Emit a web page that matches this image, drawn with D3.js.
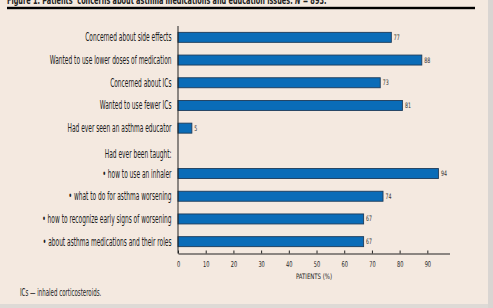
<!DOCTYPE html>
<html><head><meta charset="utf-8">
<script src="https://cdn.jsdelivr.net/npm/d3@7"></script>
<style>
html,body{margin:0;padding:0;background:#f4e9e0;}
svg{display:block;}
</style></head>
<body>
<script>
const categories = [
  "Concerned about side effects",
  "Wanted to use lower doses of medication",
  "Concerned about ICs",
  "Wanted to use fewer ICs",
  "Had ever seen an asthma educator",
  "Had ever been taught:",
  "\u2022 how to use an inhaler",
  "\u2022 what to do for asthma worsening",
  "\u2022 how to recognize early signs of worsening",
  "\u2022 about asthma medications and their roles"
];
const values = [77, 88, 73, 81, 5, null, 94, 74, 67, 67];
const tickValues = [0, 10, 20, 30, 40, 50, 60, 70, 80, 90];
const titleText = "Figure 1. Patients\u2019 concerns about asthma medications and education issues. ";
const axisTitle = "PATIENTS (%)";
const footnote = "ICs \u2014 inhaled corticosteroids.";

const W = 493, H = 308;
const FONT = "'Liberation Sans Narrow', 'DejaVu Sans Condensed', sans-serif";
const SX = 0.7;
const LX = 0.57;

const svg = d3.select("body").append("svg").attr("width", W).attr("height", H);
svg.append("rect").attr("width", W).attr("height", H).attr("fill", "#f4e9e0");
// page borders
svg.append("rect").attr("x", 488).attr("y", 0).attr("width", 5).attr("height", H).attr("fill", "#d9d5d2");
svg.append("rect").attr("x", 0).attr("y", 304).attr("width", 488).attr("height", 4).attr("fill", "#dedad6");

// title (cut at top, as in the reference)
const tg = svg.append("g").attr("transform", `translate(7,4) scale(0.66,1)`);
const tt = tg.append("text").attr("font-family", FONT).attr("font-weight", "bold").attr("font-size", 11).attr("fill", "#222");
tt.append("tspan").text(titleText);
tt.append("tspan").attr("font-style", "italic").text("N");
tt.append("tspan").text(" = 893.");
svg.append("rect").attr("x", 7).attr("y", 6.8).attr("width", 468).attr("height", 2.4).attr("fill", "#000");

const x = d3.scaleLinear().domain([0, 98]).range([178, 449.5]);
const y = d3.scaleBand().domain(categories).range([26, 253]).paddingInner(0.56).paddingOuter(0.28);

const data = categories.map((c, i) => ({c, v: values[i]}));

// bars
svg.append("g").selectAll("rect").data(data.filter(d => d.v != null)).join("rect")
  .attr("x", x(0)).attr("y", d => y(d.c))
  .attr("width", d => x(d.v) - x(0)).attr("height", y.bandwidth())
  .attr("fill", "#0a6cb8").attr("stroke", "#1d3b5a").attr("stroke-width", 0.9);

// value labels
svg.append("g").selectAll("g").data(data.filter(d => d.v != null)).join("g")
  .attr("transform", d => `translate(${x(d.v) + 2.5},${y(d.c) + y.bandwidth() / 2 + 2.5}) scale(${SX},1)`)
  .append("text").attr("font-family", FONT).attr("font-size", 7.5).attr("fill", "#333")
  .text(d => d.v);

// category labels
svg.append("g").selectAll("g").data(data).join("g")
  .attr("transform", d => `translate(171.5,${y(d.c) + y.bandwidth() / 2 + 4 + (d.v == null ? 3 : 0)}) scale(${LX},1)`)
  .append("text").attr("text-anchor", "end").attr("font-family", FONT).attr("font-size", 11.5).attr("fill", "#1a1a1a")
  .text(d => d.c);

// y axis line
svg.append("line").attr("x1", x(0)).attr("x2", x(0)).attr("y1", 26).attr("y2", 253.5)
  .attr("stroke", "#222").attr("stroke-width", 1);

// x axis
const ax = svg.append("g").attr("transform", "translate(0,253.5)")
  .call(d3.axisBottom(x).tickValues(tickValues).tickSize(-3).tickSizeOuter(0).tickPadding(0).tickFormat(d3.format("d")));
ax.select(".domain").attr("stroke", "#222").attr("stroke-width", 1.2);
ax.selectAll(".tick line").attr("stroke", "#222");
ax.selectAll(".tick text").remove();
ax.selectAll(".tick").append("g").attr("transform", `translate(0,13) scale(${SX},1)`)
  .append("text").attr("text-anchor", "middle").attr("font-family", FONT).attr("font-size", 8).attr("fill", "#222")
  .text(d => d);

svg.append("g").attr("transform", `translate(314,279) scale(0.8,1)`)
  .append("text").attr("text-anchor", "middle").attr("font-family", FONT).attr("font-size", 7.5).attr("fill", "#222")
  .text(axisTitle);

svg.append("g").attr("transform", `translate(20,296) scale(0.58,1)`)
  .append("text").attr("font-family", FONT).attr("font-size", 10.5).attr("fill", "#222")
  .text(footnote);
</script>
</body></html>
